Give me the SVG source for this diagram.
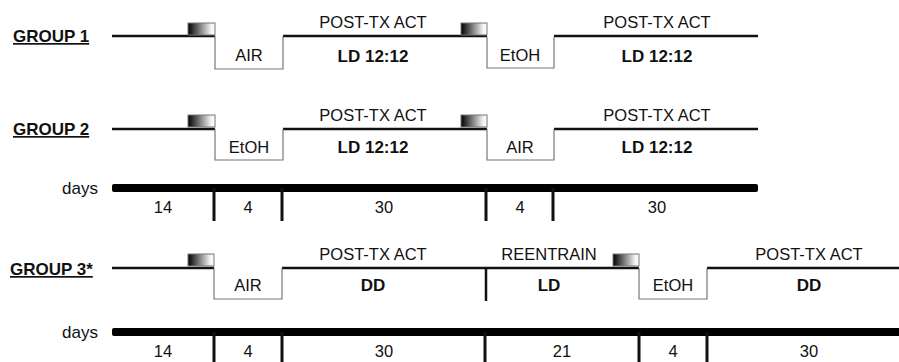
<svg xmlns="http://www.w3.org/2000/svg" width="899" height="362" viewBox="0 0 899 362">
<defs>
<linearGradient id="grad" x1="0" y1="0" x2="1" y2="0">
<stop offset="0" stop-color="#000"/>
<stop offset="0.85" stop-color="#f2f2f2"/>
<stop offset="1" stop-color="#fff"/>
</linearGradient>
<style>
text{font-family:"Liberation Sans",Arial,sans-serif;fill:#111;}
.t{font-size:16.5px;text-anchor:middle;}
.b{font-size:17px;font-weight:bold;text-anchor:middle;}
.g{font-size:17px;font-weight:bold;text-decoration:underline;}
.d{font-size:17px;text-anchor:end;}
.line{stroke:#111;stroke-width:2.5;fill:none;}
.box{stroke:#777;stroke-width:1.2;fill:none;}
.grad{fill:url(#grad);stroke:#777;stroke-width:1;}
.bar{fill:#000;}
.tick{stroke:#111;stroke-width:3;fill:none;}
</style>
</defs>
<rect width="899" height="362" fill="#fff"/>

<g id="group1">
<text class="g" x="13" y="42">GROUP 1</text>
<path class="line" d="M112,36 H215 M283,36 H487 M554,36 H758"/>
<rect class="grad" x="188" y="23" width="27" height="12"/>
<path class="box" d="M215,36 V69 H283 V36"/>
<rect class="grad" x="461" y="23" width="26" height="12"/>
<path class="box" d="M487,37 V68 H554 V37"/>
<text class="t" x="249" y="61">AIR</text>
<text class="t" x="373" y="28">POST-TX ACT</text>
<text class="b" x="373" y="62">LD 12:12</text>
<text class="t" x="520" y="61">EtOH</text>
<text class="t" x="657" y="28">POST-TX ACT</text>
<text class="b" x="657" y="62">LD 12:12</text>
</g>

<g id="group2">
<text class="g" x="13" y="135">GROUP 2</text>
<path class="line" d="M112,129 H215 M283,129 H487 M554,129 H758"/>
<rect class="grad" x="188" y="115" width="27" height="12"/>
<path class="box" d="M215,129 V160 H283 V129"/>
<rect class="grad" x="461" y="115" width="26" height="12"/>
<path class="box" d="M487,129 V160 H554 V129"/>
<text class="t" x="249" y="153">EtOH</text>
<text class="t" x="373" y="121">POST-TX ACT</text>
<text class="b" x="373" y="153">LD 12:12</text>
<text class="t" x="520" y="153">AIR</text>
<text class="t" x="657" y="121">POST-TX ACT</text>
<text class="b" x="657" y="153">LD 12:12</text>
</g>

<g id="days1">
<text class="d" x="98" y="194">days</text>
<rect class="bar" x="112" y="184" width="646" height="8" rx="2"/>
<path class="tick" d="M214,188 V221 M282,188 V221 M486,188 V221 M553,188 V221"/>
<text class="t" x="163" y="213">14</text>
<text class="t" x="248" y="213">4</text>
<text class="t" x="384" y="213">30</text>
<text class="t" x="520" y="213">4</text>
<text class="t" x="657" y="213">30</text>
</g>

<g id="group3">
<text class="g" x="10" y="275">GROUP 3*</text>
<path class="line" d="M112,268 H214 M282,268 H639 M707,268 H899"/>
<path class="tick" style="stroke-width:2.5" d="M486,268 V301"/>
<rect class="grad" x="188" y="254" width="26" height="12"/>
<path class="box" d="M214,268 V299 H282 V268"/>
<rect class="grad" x="613" y="254" width="26" height="12"/>
<path class="box" d="M639,268 V299 H707 V268"/>
<text class="t" x="248" y="291">AIR</text>
<text class="t" x="373" y="260">POST-TX ACT</text>
<text class="b" x="373" y="291">DD</text>
<text class="t" x="549" y="260">REENTRAIN</text>
<text class="b" x="549" y="291">LD</text>
<text class="t" x="673" y="291">EtOH</text>
<text class="t" x="809" y="260">POST-TX ACT</text>
<text class="b" x="809" y="291">DD</text>
</g>

<g id="days2">
<text class="d" x="98" y="338">days</text>
<rect class="bar" x="112" y="328" width="790" height="8" rx="2"/>
<path class="tick" d="M214,332 V362 M282,332 V362 M485,332 V362 M639,332 V362 M707,332 V362"/>
<text class="t" x="163" y="357">14</text>
<text class="t" x="248" y="357">4</text>
<text class="t" x="384" y="357">30</text>
<text class="t" x="562" y="357">21</text>
<text class="t" x="673" y="357">4</text>
<text class="t" x="809" y="357">30</text>
</g>
</svg>
